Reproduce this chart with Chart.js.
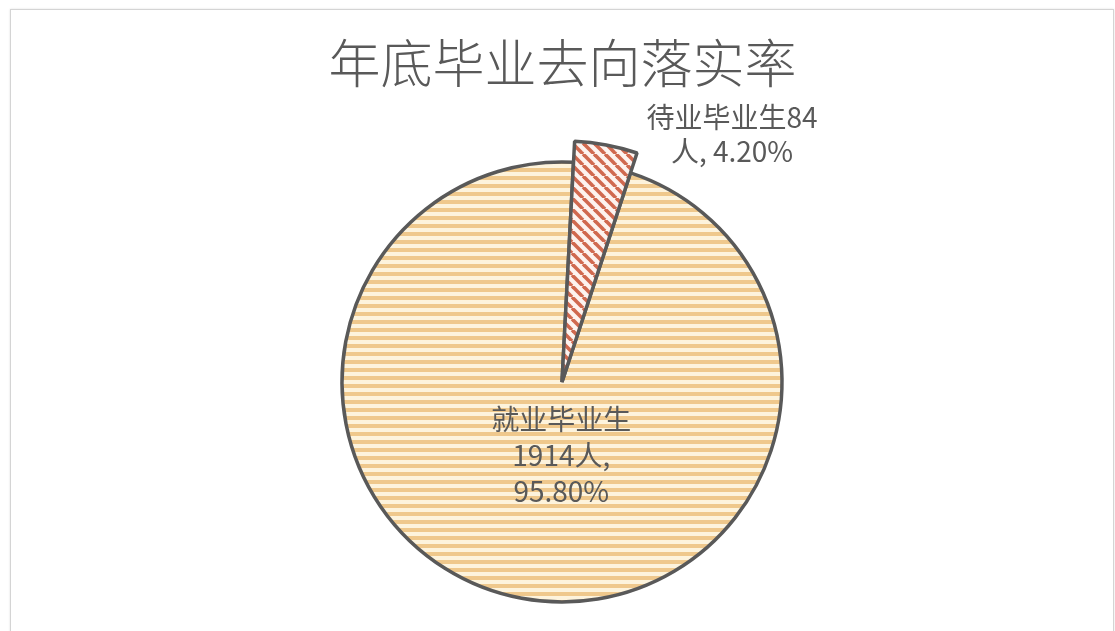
<!DOCTYPE html>
<html lang="zh">
<head>
    <meta charset="UTF-8">
    <title>年底毕业去向落实率</title>
    <script src="https://cdn.jsdelivr.net/npm/chart.js"></script>
    <style>
        body {
            margin: 0;
            width: 1115px;
            height: 631px;
            overflow: hidden;
            background: #fff;
            font-family: 'Noto Sans CJK SC', 'Noto Sans', sans-serif;
        }
        #frame {
            position: absolute;
            left: 10px;
            top: 9px;
            width: 1102px;
            height: 700px;
            border: 1px solid #d4d4d4;
            box-shadow: 0 0 2px rgba(0, 0, 0, 0.12);
        }
        #title {
            position: absolute;
            left: 0;
            width: 1125px;
            top: 27px;
            text-align: center;
            font-size: 52px;
            font-weight: 300;
            color: #595959;
            line-height: 68px;
        }
        #chart-box {
            position: absolute;
            left: 0;
            top: 0;
            width: 1115px;
            height: 631px;
        }
    </style>
</head>
<body>
    <div id="frame"></div>
    <div id="title">年底毕业去向落实率</div>
    <div id="chart-box"><canvas id="pieChart"></canvas></div>

    <script>
        // data
        const categories = ['就业毕业生', '待业毕业生'];
        const counts = [1914, 84];
        const percents = ['95.80%', '4.20%'];
        const labelLines = [
            ['就业毕业生', '1914人,', '95.80%'],
            ['待业毕业生84', '人, 4.20%']
        ];

        const total = counts.reduce((a, b) => a + b, 0);
        const textColor = '#595959';

        function stripePattern() {
            const c = document.createElement('canvas');
            c.width = 8;
            c.height = 8;
            const g = c.getContext('2d');
            g.fillStyle = '#fdf3dc';
            g.fillRect(0, 0, 8, 8);
            g.fillStyle = '#efc88c';
            g.fillRect(0, 0, 8, 4);
            return g.createPattern(c, 'repeat');
        }

        function diagonalPattern() {
            const s = 11;
            const c = document.createElement('canvas');
            c.width = s;
            c.height = s;
            const g = c.getContext('2d');
            g.fillStyle = '#fdf3ef';
            g.fillRect(0, 0, s, s);
            g.strokeStyle = '#d0694f';
            g.lineWidth = 3.6;
            for (let k = -1; k <= 1; k++) {
                g.beginPath();
                g.moveTo(k * s, 0);
                g.lineTo(k * s + s, s);
                g.stroke();
            }
            return g.createPattern(c, 'repeat');
        }

        // the small slice sticks out past the big one, drawn on top of it
        const pullOut = {
            id: 'pullOut',
            afterDatasetsUpdate(chart) {
                const arc = chart.getDatasetMeta(0).data[1];
                arc.outerRadius += 21;
            }
        };

        const sliceLabels = {
            id: 'sliceLabels',
            afterDatasetsDraw(chart) {
                const ctx = chart.ctx;
                const arcs = chart.getDatasetMeta(0).data;
                ctx.save();
                ctx.fillStyle = textColor;
                ctx.font = "28px 'Noto Sans CJK SC'";
                ctx.textAlign = 'center';
                ctx.textBaseline = 'middle';

                // inside label for the big slice
                const big = arcs[0];
                const mid = (big.startAngle + big.endAngle) / 2;
                const r = big.outerRadius * 0.34;
                let x = big.x + Math.cos(mid) * r + 13;
                let y = big.y + Math.sin(mid) * r;
                labelLines[0].forEach((t, i) => {
                    ctx.fillText(t, x, y + (i - 1) * 36);
                });

                // outside label for the small slice
                const small = arcs[1];
                const ex = small.x + Math.cos(small.endAngle) * small.outerRadius;
                const ey = small.y + Math.sin(small.endAngle) * small.outerRadius;
                x = ex + 95;
                y = ey - 19;
                labelLines[1].forEach((t, i) => {
                    ctx.fillText(t, x, y + (i - 0.5) * 34);
                });
                ctx.restore();
            }
        };

        const ctx = document.getElementById('pieChart').getContext('2d');
        const myChart = new Chart(ctx, {
            type: 'pie',
            data: {
                labels: categories,
                datasets: [{
                    data: counts,
                    backgroundColor: [stripePattern(), diagonalPattern()],
                    borderColor: '#595959',
                    borderWidth: 3.5,
                    radius: 220
                }]
            },
            options: {
                responsive: true,
                maintainAspectRatio: false,
                animation: false,
                rotation: 3 + 360 * counts[1] / total,
                layout: {
                    padding: { left: 9, right: 0, top: 133, bottom: 0 }
                },
                plugins: {
                    legend: { display: false },
                    tooltip: { enabled: false },
                    title: { display: false }
                },
                events: []
            },
            plugins: [pullOut, sliceLabels]
        });
    </script>
</body>
</html>
